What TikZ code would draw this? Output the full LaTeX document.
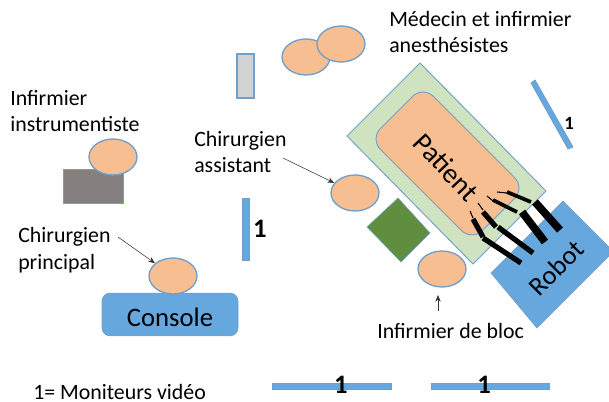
\documentclass[tikz,border=0pt]{standalone}
\usepackage{fontspec}
\setmainfont{Carlito}
\usetikzlibrary{arrows.meta,shapes.geometric}
\definecolor{edgeblue}{HTML}{6F9FCB}
\definecolor{boxblue}{HTML}{66A8DE}
\definecolor{skin}{HTML}{F6BE91}
\definecolor{bedgreen}{HTML}{CFE3C1}
\definecolor{darkgreen}{HTML}{5F8E3E}
\definecolor{greybox}{HTML}{857F7F}
\definecolor{lightbox}{HTML}{D2D2D2}
\tikzset{
  person/.style={ellipse,draw=edgeblue,line width=1pt,fill=skin,minimum width=36pt,minimum height=27pt,inner sep=0pt},
  plate/.style={draw=edgeblue,line width=0.7pt},
  monitor/.style={fill=boxblue,draw=edgeblue,line width=0.6pt},
  lab/.style={align=left,anchor=west,font=\fontsize{16.4}{19.8}\selectfont,inner sep=0pt},
  big/.style={font=\fontsize{20}{22}\selectfont,inner sep=0pt},
  numbig/.style={font=\fontsize{20}{22}\selectfont\bfseries,inner sep=0pt},
  numsmall/.style={font=\fontsize{14}{16}\selectfont\bfseries,inner sep=0pt},
  pointer/.style={-{Stealth[length=5pt,width=4pt]},line width=0.4pt,draw=black!80},
  armA/.style={line width=5.8pt,black},
  armD/.style={line width=3.9pt,black},
  armB/.style={line width=2.8pt,black},
  armC/.style={line width=0.8pt,black}
}
\begin{document}
\begin{tikzpicture}[x=0.75pt,y=-0.75pt]
\useasboundingbox (0,0) rectangle (609,402);
% bed and patient
\draw[plate,fill=bedgreen] (347,136) -- (420,63) -- (546,191) -- (473,264) -- cycle;
\draw[plate,fill=skin,rounded corners=11pt] (370,139) -- (423,86) -- (525,188) -- (472,241) -- cycle;
\node[big,rotate=-47,font=\fontsize{21}{22}\selectfont] (patient) at (446,167) {Patient};
% robot
\draw[fill=boxblue,draw=edgeblue,line width=0.5pt] (491,273) -- (563,201) -- (609,247) -- (609,256) -- (537,328) -- cycle;
\node[big,rotate=45] (robot) at (556,268) {Robot};
% arms
\draw[armA] (535,202) -- (560,230);
\draw[armA] (522,212) -- (545,242);
\draw[armD] (498,227) -- (533,253);
\draw[armD] (483,238) -- (521,263);
\draw[armB] (507,192) -- (531,202);
\draw[armB] (493,200) -- (517,212);
\draw[armD] (483,212) -- (496,227);
\draw[armD] (473,219) -- (483,237);
\draw[armC] (497,192) -- (507,193);
\draw[armC] (487,196) -- (493,201);
\draw[armC] (478,203) -- (483,210);
\draw[armC] (470,211) -- (473,218);
% furniture
\draw[fill=darkgreen,draw=edgeblue,line width=0.4pt] (398,198) -- (430,233) -- (401,262) -- (367,227) -- cycle;
\draw[fill=lightbox,draw=edgeblue,line width=0.9pt] (237,54) rectangle (254,98);
\draw[fill=greybox,draw=edgeblue,line width=0.7pt] (63,169) rectangle (123,203);
% console
\node[draw=edgeblue,fill=boxblue,line width=0.5pt,rounded corners=6pt,minimum width=102pt,minimum height=32pt,inner sep=0pt] (console) at (170,314.5) {};
\node[big] (consolelab) at (170,317) {Console};
% persons
\node[person] (upperA) at (306,57) {};
\node[person] (upperB) at (341,44) {};
\node[person] (instr) at (113,157) {};
\node[person] (princ) at (173,276) {};
\node[person] (assist) at (355,193) {};
\node[person] (bloc) at (442,269) {};
% monitors
\draw[monitor] (242,198) rectangle (249,260);
\draw[monitor] (531,83) -- (535,80) -- (573,147) -- (568,149) -- cycle;
\draw[monitor] (272,383) rectangle (391,389);
\draw[monitor] (431,383) rectangle (549,389);
\node[numbig] (oneA) at (260,229) {1};
\node[numsmall] (oneB) at (569,123) {1};
\node[numbig] (oneC) at (341,385) {1};
\node[numbig] (oneD) at (484,385) {1};
% labels
\node[lab] (medecin) at (389,32) {Médecin et infirmier\\anesthésistes};
\node[lab] (instrlab) at (10,111) {Infirmier\\instrumentiste};
\node[lab] (assistlab) at (194,152) {Chirurgien\\assistant};
\node[lab] (princlab) at (18,250) {Chirurgien\\principal};
\node[lab] (bloclab) at (377,331) {Infirmier de bloc};
\node[lab] (legend) at (33,392) {1= Moniteurs vidéo};
% pointers
\coordinate (pa) at (283,158);
\coordinate (pb) at (118,237);
\coordinate (pc) at (438,311);
\coordinate (pd) at (438,295);
\draw[pointer] (pa) -- (assist);
\draw[pointer] (pb) -- (princ);
\draw[pointer] (pc) -- (pd);
\end{tikzpicture}
\end{document}
